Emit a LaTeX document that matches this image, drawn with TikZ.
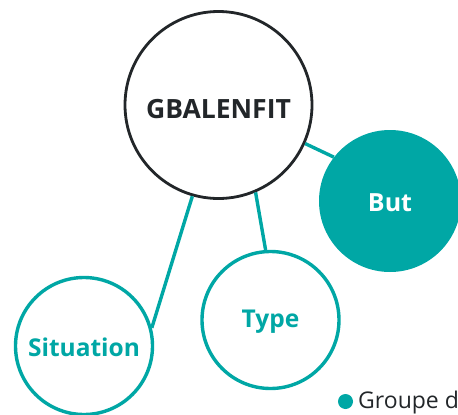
\documentclass[tikz,border=0pt]{standalone}
\usepackage{fontspec}
\setmainfont{Open Sans}
\definecolor{teal}{HTML}{00A7A5}
\definecolor{ink}{HTML}{222629}
\newcommand{\lowr}[2]{\raisebox{-#1}[\height][\depth]{#2}}
\begin{document}
\begin{tikzpicture}[x=1pt,y=-1pt,
  hub/.style={circle,draw=ink,line width=2.8pt,fill=white,minimum size=187pt,inner sep=0pt,text=ink,font=\fontsize{26.5}{26.5}\selectfont\bfseries},
  leaf/.style={circle,draw=teal,line width=3.4pt,fill=white,minimum size=137pt,inner sep=0pt,text=teal,font=\fontsize{24.5}{24.5}\selectfont\bfseries},
  filled/.style={circle,fill=teal,minimum size=142pt,inner sep=0pt,text=white,font=\fontsize{25}{25}\selectfont\bfseries},
  link/.style={draw=teal,line width=3.4pt}]
\useasboundingbox (0,0) rectangle (458,415);
\clip (0,0) rectangle (458,415);
\node[hub] (m) at (218.5,105) {\lowr{4pt}{GBALENFIT}};
\node[filled] (but) at (390,201) {\lowr{1.5pt}{But}};
\node[leaf] (type) at (270.5,320) {\lowr{1.5pt}{Type}};
\node[leaf] (sit) at (84,346) {\lowr{1.5pt}{Situation}};
\draw[link] (m.336) -- (but.142);
\draw[link] (m.293) -- (type.94);
\draw[link] (m.254) -- (sit.15);
\node[circle,fill=teal,minimum size=15pt,inner sep=0pt] (dot) at (345.5,401.5) {};
\node[anchor=base west,inner sep=0pt,text=ink,font=\fontsize{23}{23}\selectfont] (leg) at (358,408) {Groupe d};
\end{tikzpicture}
\end{document}
